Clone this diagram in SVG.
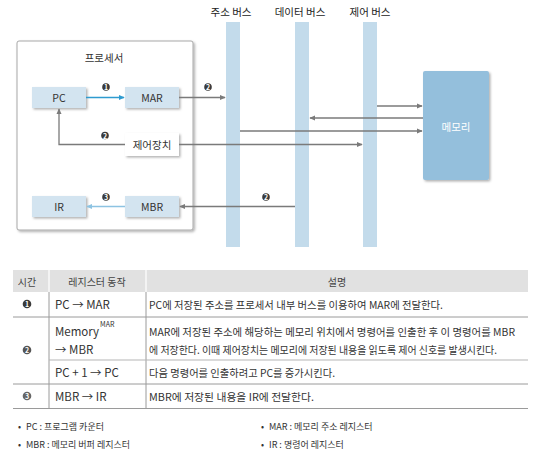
<svg xmlns="http://www.w3.org/2000/svg" width="535" height="466" viewBox="0 0 535 466">
<defs>
<filter id="sh" x="-20%" y="-20%" width="150%" height="150%">
<feDropShadow dx="1.5" dy="1.5" stdDeviation="1" flood-color="#000" flood-opacity="0.3"/>
</filter>
<marker id="ag" viewBox="0 0 8 8" refX="7" refY="4" markerWidth="6" markerHeight="6" orient="auto" markerUnits="userSpaceOnUse">
<path d="M0,0.5 L8,4 L0,7.5 Z" fill="#7a7a7a"/>
</marker>
<marker id="ab" viewBox="0 0 8 8" refX="7" refY="4" markerWidth="6" markerHeight="6" orient="auto" markerUnits="userSpaceOnUse">
<path d="M0,0.5 L8,4 L0,7.5 Z" fill="#2e9bd0"/>
</marker>
<marker id="al" viewBox="0 0 8 8" refX="7" refY="4" markerWidth="6" markerHeight="6" orient="auto" markerUnits="userSpaceOnUse">
<path d="M0,0.5 L8,4 L0,7.5 Z" fill="#8dc3e2"/>
</marker>
</defs>
<style>
text{font-family:"Noto Sans CJK KR","Noto Sans",sans-serif;fill:#333}
.reg{fill:#d3e4f0;filter:url(#sh)}
.bus{fill:#c3dbeb}
.lbl{font-size:10.5px;text-anchor:middle;dominant-baseline:central;fill:#333}
.bl{font-size:10.5px;text-anchor:middle;fill:#222}
.g{stroke:#7a7a7a;stroke-width:1.3;fill:none}
.num{fill:#3a3a3a}
.nt{font-size:7px;font-weight:bold;fill:#fff;text-anchor:middle;dominant-baseline:central}
.tt{font-size:10.5px;dominant-baseline:central;fill:#333}
.t2{font-size:11.5px;dominant-baseline:central;fill:#333}
.th{font-size:10px;dominant-baseline:central;text-anchor:middle;fill:#444}
.fn{font-size:9px;dominant-baseline:central;fill:#333}
.ln{stroke:#b5b5b5;stroke-width:1}
.lnd{stroke:#9a9a9a;stroke-width:1}
</style>

<!-- buses -->
<g id="address-bus">
<rect class="bus" x="226" y="22" width="14" height="225"/>
<text class="bl" x="231" y="16">주소 버스</text>
</g>
<g id="data-bus">
<rect class="bus" x="295" y="22" width="14" height="225"/>
<text class="bl" x="300" y="16">데이터 버스</text>
</g>
<g id="control-bus">
<rect class="bus" x="363" y="22" width="14" height="225"/>
<text class="bl" x="370" y="16">제어 버스</text>
</g>

<!-- processor -->
<g id="processor">
<rect x="17" y="41" width="176" height="189" rx="2" fill="#fff" stroke="#a8a8a8" stroke-width="1" filter="url(#sh)"/>
<text class="lbl" x="104" y="57">프로세서</text>
</g>
<g id="pc"><rect class="reg" x="32" y="87" width="54" height="21"/><text class="lbl" x="59" y="97.5">PC</text></g>
<g id="mar"><rect class="reg" x="125" y="87" width="54" height="21"/><text class="lbl" x="152" y="97.5">MAR</text></g>
<g id="control-unit"><rect x="125" y="133" width="54" height="23" fill="#fff" filter="url(#sh)"/><text class="lbl" x="152" y="144.5">제어장치</text></g>
<g id="ir"><rect class="reg" x="32" y="196" width="54" height="21"/><text class="lbl" x="59" y="206.5">IR</text></g>
<g id="mbr"><rect class="reg" x="125" y="196" width="54" height="21"/><text class="lbl" x="152" y="206.5">MBR</text></g>
<g id="memory">
<rect x="423" y="71" width="66" height="109" rx="2" fill="#94bfdc" filter="url(#sh)"/>
<text class="lbl" x="456" y="126" style="fill:#fff">메모리</text>
</g>

<!-- connectors -->
<g id="connectors">
<line x1="86" y1="97.5" x2="124" y2="97.5" stroke="#2e9bd0" stroke-width="1.3" marker-end="url(#ab)"/>
<line class="g" x1="179" y1="97.5" x2="225" y2="97.5" marker-end="url(#ag)"/>
<polyline class="g" points="125,144.5 59,144.5 59,109" marker-end="url(#ag)"/>
<line class="g" x1="179" y1="144.5" x2="362" y2="144.5" marker-end="url(#ag)"/>
<line class="g" x1="240" y1="131" x2="422" y2="131" marker-end="url(#ag)"/>
<line class="g" x1="377" y1="106" x2="422" y2="106" marker-end="url(#ag)"/>
<line class="g" x1="423" y1="118" x2="310" y2="118" marker-end="url(#ag)"/>
<line class="g" x1="295" y1="206.5" x2="180" y2="206.5" marker-end="url(#ag)"/>
<line x1="125" y1="206.5" x2="87" y2="206.5" stroke="#8dc3e2" stroke-width="1.3" marker-end="url(#al)"/>
</g>

<!-- step numbers in diagram -->
<g id="steps">
<circle class="num" cx="106" cy="87" r="3.8"/><text class="nt" x="106" y="87">1</text>
<circle class="num" cx="208" cy="87" r="3.8"/><text class="nt" x="208" y="87">2</text>
<circle class="num" cx="105" cy="135.5" r="3.8"/><text class="nt" x="105" y="135.5">2</text>
<circle class="num" cx="106" cy="197" r="3.8"/><text class="nt" x="106" y="197">3</text>
<circle class="num" cx="266" cy="197" r="3.8"/><text class="nt" x="266" y="197">2</text>
</g>

<!-- table -->
<g id="table">
<rect x="13" y="270" width="515" height="22" fill="#e1e1e1"/>
<line class="lnd" x1="49" y1="292" x2="49" y2="408"/>
<line class="lnd" x1="146" y1="292" x2="146" y2="408"/>
<line x1="49" y1="270" x2="49" y2="292" stroke="#fff" stroke-width="1.2"/>
<line x1="146" y1="270" x2="146" y2="292" stroke="#fff" stroke-width="1.2"/>
<line class="lnd" x1="13" y1="317" x2="528" y2="317"/>
<line class="ln" x1="49" y1="360" x2="528" y2="360"/>
<line class="lnd" x1="13" y1="384" x2="528" y2="384"/>
<line class="lnd" x1="13" y1="408.5" x2="528" y2="408.5"/>
<text class="th" x="27" y="281">시간</text>
<text class="th" x="97" y="281">레지스터 동작</text>
<text class="th" x="337" y="281">설명</text>

<circle class="num" cx="27" cy="304" r="4.3"/><text class="nt" x="27" y="304" font-size="7.5">1</text>
<circle cx="27" cy="350" r="4.3" fill="#555"/><text class="nt" x="27" y="350" font-size="7.5">2</text>
<circle cx="27" cy="396" r="4.3" fill="#666"/><text class="nt" x="27" y="396" font-size="7.5">3</text>

<text class="t2" x="55" y="304">PC → MAR</text>
<text class="t2" x="55" y="331">Memory</text>
<text x="100" y="327" font-size="7" fill="#333">MAR</text>
<text class="t2" x="55" y="349">→ MBR</text>
<text class="t2" x="55" y="372">PC + 1 → PC</text>
<text class="t2" x="55" y="396">MBR → IR</text>

<text class="tt" x="149" y="304" textLength="294" lengthAdjust="spacingAndGlyphs">PC에 저장된 주소를 프로세서 내부 버스를 이용하여 MAR에 전달한다.</text>
<text class="tt" x="149" y="331" textLength="366" lengthAdjust="spacingAndGlyphs">MAR에 저장된 주소에 해당하는 메모리 위치에서 명령어를 인출한 후 이 명령어를 MBR</text>
<text class="tt" x="149" y="349" textLength="348" lengthAdjust="spacingAndGlyphs">에 저장한다. 이때 제어장치는 메모리에 저장된 내용을 읽도록 제어 신호를 발생시킨다.</text>
<text class="tt" x="149" y="372" textLength="186" lengthAdjust="spacingAndGlyphs">다음 명령어를 인출하려고 PC를 증가시킨다.</text>
<text class="tt" x="149" y="396" textLength="165" lengthAdjust="spacingAndGlyphs">MBR에 저장된 내용을 IR에 전달한다.</text>
</g>

<!-- footnotes -->
<g id="footnotes">
<text class="fn" x="18" y="426">•</text>
<text class="fn" x="26" y="426">PC : 프로그램 카운터</text>
<text class="fn" x="18" y="444">•</text>
<text class="fn" x="26" y="444">MBR : 메모리 버퍼 레지스터</text>
<text class="fn" x="261" y="426">•</text>
<text class="fn" x="269" y="426">MAR : 메모리 주소 레지스터</text>
<text class="fn" x="261" y="444">•</text>
<text class="fn" x="269" y="444">IR : 명령어 레지스터</text>
</g>
</svg>
